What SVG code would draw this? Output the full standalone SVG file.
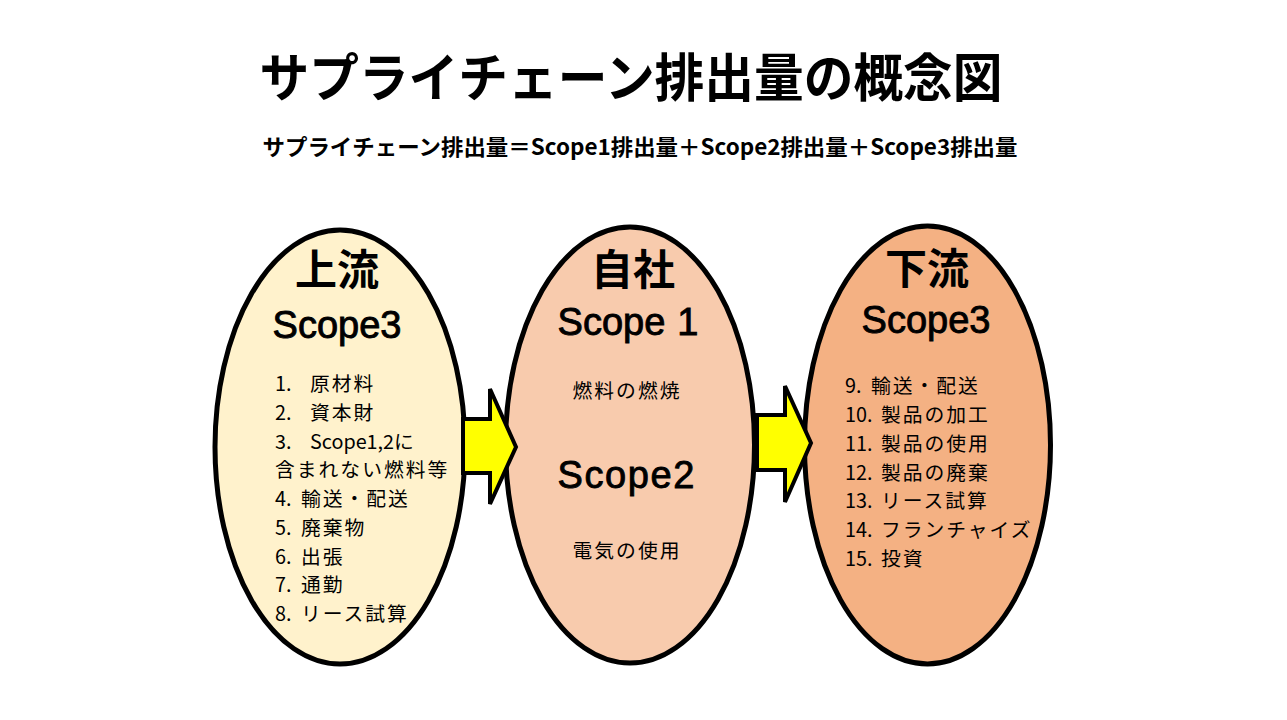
<svg xmlns="http://www.w3.org/2000/svg" width="1287" height="720" viewBox="0 0 1287 720">
<style>
.ell{stroke:#000;stroke-width:5}
.arrow{fill:#FFFF00;stroke:#000;stroke-width:4;stroke-linejoin:miter}
.jp{font-family:"Noto Sans CJK JP","Noto Sans CJK SC",sans-serif;fill:#000}
.head{font-family:"Noto Sans CJK JP",sans-serif;font-weight:bold;font-size:42px;text-anchor:middle;fill:#000}
.scope{font-family:"Liberation Sans",Arial,sans-serif;font-size:38px;text-anchor:middle;fill:#000;stroke:#000;stroke-width:0.9}
.item{font-family:"Noto Sans CJK JP",sans-serif;font-size:19.8px;fill:#000}
.cj{letter-spacing:2px}
</style>
<rect width="1287" height="720" fill="#fff"/>
<text class="jp" x="631" y="97" font-size="52" font-weight="bold" text-anchor="middle" textLength="743" lengthAdjust="spacingAndGlyphs">サプライチェーン排出量の概念図</text>
<text class="jp" x="640" y="155" font-size="22" font-weight="bold" text-anchor="middle" textLength="755" lengthAdjust="spacingAndGlyphs">サプライチェーン排出量＝Scope1排出量＋Scope2排出量＋Scope3排出量</text>

<g id="upstream">
<ellipse class="ell" cx="340" cy="447" rx="125" ry="217" fill="#FFF2CC"/>
<text class="head" x="337" y="285">上流</text>
<text class="scope" x="337" y="338">Scope3</text>
<text class="item" x="275" y="391">1.<tspan class="cj" x="310">原材料</tspan></text>
<text class="item" x="275" y="419.75">2.<tspan class="cj" x="310">資本財</tspan></text>
<text class="item" x="275" y="448.5">3.<tspan x="310">Scope1,2に</tspan></text>
<text class="item cj" x="275" y="477.25">含まれない燃料等</text>
<text class="item" x="275" y="506">4. <tspan class="cj" dx="5">輸送・配送</tspan></text>
<text class="item" x="275" y="534.75">5. <tspan class="cj" dx="5">廃棄物</tspan></text>
<text class="item" x="275" y="563.5">6. <tspan class="cj" dx="5">出張</tspan></text>
<text class="item" x="275" y="592.25">7. <tspan class="cj" dx="5">通勤</tspan></text>
<text class="item" x="275" y="621">8. <tspan class="cj" dx="5">リース試算</tspan></text>
</g>

<g id="company">
<ellipse class="ell" cx="630" cy="445" rx="124.5" ry="218" fill="#F8CBAD"/>
<text class="head" x="633" y="285">自社</text>
<text class="scope" x="628" y="335">Scope<tspan dx="12">1</tspan></text>
<text class="item cj" x="627" y="398" text-anchor="middle">燃料の燃焼</text>
<text class="scope" x="626" y="488" textLength="137">Scope2</text>
<text class="item cj" x="627" y="558" text-anchor="middle">電気の使用</text>
</g>

<g id="downstream">
<ellipse class="ell" cx="927.5" cy="445" rx="123" ry="219" fill="#F4B183"/>
<text class="head" x="927" y="284">下流</text>
<text class="scope" x="926" y="333">Scope3</text>
<text class="item" x="845" y="393">9. <tspan class="cj" dx="5">輸送・配送</tspan></text>
<text class="item" x="845" y="421.8">10. <tspan class="cj" dx="4">製品の加工</tspan></text>
<text class="item" x="845" y="450.7">11. <tspan class="cj" dx="4">製品の使用</tspan></text>
<text class="item" x="845" y="479.5">12. <tspan class="cj" dx="4">製品の廃棄</tspan></text>
<text class="item" x="845" y="508.3">13. <tspan class="cj" dx="4">リース試算</tspan></text>
<text class="item" x="845" y="537.2">14. <tspan class="cj" dx="4" letter-spacing="1">フランチャイズ</tspan></text>
<text class="item" x="845" y="566">15. <tspan class="cj" dx="4">投資</tspan></text>
</g>

<g id="connectors">
<polygon class="arrow" points="463,419 490,419 490,389 516,447 490,504 490,473 463,473"/>
<polygon class="arrow" points="757,415 785,415 785,386 811,443 785,502 785,470 757,470"/>
</g>
</svg>
